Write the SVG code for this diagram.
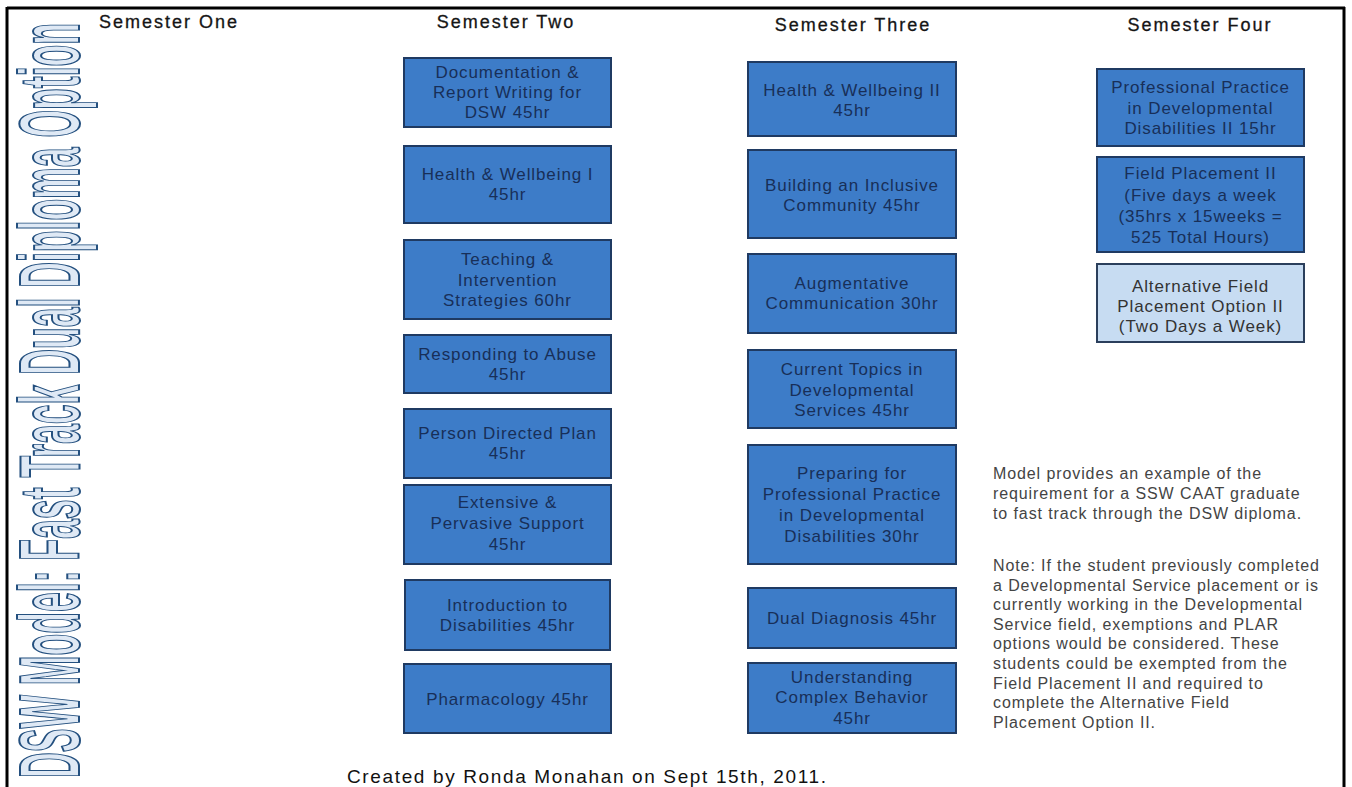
<svg xmlns="http://www.w3.org/2000/svg" width="1352" height="787" viewBox="0 0 1352 787">
<style>
.box{fill:#3d7cc8;stroke:#1f3a62;stroke-width:2}
.lbox{fill:#c7dcf2;stroke:#2b3f5c;stroke-width:2}
.bt{font-family:"Liberation Sans",Arial,sans-serif;font-size:17px;fill:#182f58;text-anchor:middle;letter-spacing:0.9px}
.lt{font-family:"Liberation Sans",Arial,sans-serif;font-size:17px;fill:#333;text-anchor:middle;letter-spacing:0.9px}
.hd{font-family:"Liberation Sans",Arial,sans-serif;font-size:18px;fill:#151515;stroke:#151515;stroke-width:0.3;text-anchor:middle;letter-spacing:2px}
.para{font-family:"Liberation Sans",Arial,sans-serif;font-size:16px;fill:#444;letter-spacing:0.9px}
.foot{font-family:"Liberation Sans",Arial,sans-serif;font-size:19px;fill:#111}
.title{font-family:"Liberation Sans",Arial,sans-serif;font-size:86px;font-weight:bold;fill:#dfe9f5;stroke:#24507f;stroke-width:2}
</style>
<rect width="1352" height="787" fill="#fff"/>
<g id="frame" stroke="#000" stroke-width="3" fill="none">
<line x1="7" y1="8" x2="1345" y2="8"/>
<line x1="7" y1="7" x2="7" y2="787"/>
<line x1="1344" y1="7" x2="1344" y2="787"/>
</g>
<g id="title">
<text class="title" transform="translate(79,778) rotate(-90)" x="0" y="0" textLength="755" lengthAdjust="spacingAndGlyphs">DSW Model: Fast Track Dual Diploma Option</text>
</g>
<g id="headers">
<text class="hd" x="169" y="28">Semester One</text>
<text class="hd" x="506" y="28">Semester Two</text>
<text class="hd" x="853" y="31">Semester Three</text>
<text class="hd" x="1200" y="31">Semester Four</text>
</g>
<g id="connectors"></g>
<!-- Semester Two -->
<g id="s2-doc"><rect class="box" x="404" y="58" width="207" height="69"/>
<text class="bt" x="507.5" y="78">Documentation &amp;</text><text class="bt" x="507.5" y="98">Report Writing for</text><text class="bt" x="507.5" y="118">DSW 45hr</text></g>
<g id="s2-hw1"><rect class="box" x="404" y="146" width="207" height="77"/>
<text class="bt" x="507.5" y="180">Health &amp; Wellbeing I</text><text class="bt" x="507.5" y="200">45hr</text></g>
<g id="s2-teach"><rect class="box" x="404" y="240" width="207" height="79"/>
<text class="bt" x="507.5" y="265">Teaching &amp;</text><text class="bt" x="507.5" y="286">Intervention</text><text class="bt" x="507.5" y="306">Strategies 60hr</text></g>
<g id="s2-abuse"><rect class="box" x="404" y="335" width="207" height="58"/>
<text class="bt" x="507.5" y="360">Responding to Abuse</text><text class="bt" x="507.5" y="380">45hr</text></g>
<g id="s2-pdp"><rect class="box" x="404" y="409" width="207" height="69"/>
<text class="bt" x="507.5" y="439">Person Directed Plan</text><text class="bt" x="507.5" y="459">45hr</text></g>
<g id="s2-ext"><rect class="box" x="404" y="485" width="207" height="79"/>
<text class="bt" x="507.5" y="508">Extensive &amp;</text><text class="bt" x="507.5" y="529">Pervasive Support</text><text class="bt" x="507.5" y="550">45hr</text></g>
<g id="s2-intro"><rect class="box" x="405" y="580" width="205" height="70"/>
<text class="bt" x="507.5" y="611">Introduction to</text><text class="bt" x="507.5" y="631">Disabilities 45hr</text></g>
<g id="s2-pharm"><rect class="box" x="404" y="664" width="207" height="69"/>
<text class="bt" x="507.5" y="705">Pharmacology 45hr</text></g>
<!-- Semester Three -->
<g id="s3-hw2"><rect class="box" x="748" y="62" width="208" height="74"/>
<text class="bt" x="852" y="96">Health &amp; Wellbeing II</text><text class="bt" x="852" y="116">45hr</text></g>
<g id="s3-build"><rect class="box" x="748" y="150" width="208" height="88"/>
<text class="bt" x="852" y="191">Building an Inclusive</text><text class="bt" x="852" y="211">Community 45hr</text></g>
<g id="s3-aug"><rect class="box" x="748" y="254" width="208" height="79"/>
<text class="bt" x="852" y="289">Augmentative</text><text class="bt" x="852" y="309">Communication 30hr</text></g>
<g id="s3-topics"><rect class="box" x="748" y="350" width="208" height="78"/>
<text class="bt" x="852" y="375">Current Topics in</text><text class="bt" x="852" y="396">Developmental</text><text class="bt" x="852" y="416">Services 45hr</text></g>
<g id="s3-prep"><rect class="box" x="748" y="445" width="208" height="119"/>
<text class="bt" x="852" y="479">Preparing for</text><text class="bt" x="852" y="500">Professional Practice</text><text class="bt" x="852" y="521">in Developmental</text><text class="bt" x="852" y="542">Disabilities 30hr</text></g>
<g id="s3-dual"><rect class="box" x="748" y="588" width="208" height="60"/>
<text class="bt" x="852" y="624">Dual Diagnosis 45hr</text></g>
<g id="s3-behav"><rect class="box" x="748" y="663" width="208" height="70"/>
<text class="bt" x="852" y="683">Understanding</text><text class="bt" x="852" y="703">Complex Behavior</text><text class="bt" x="852" y="724">45hr</text></g>
<!-- Semester Four -->
<g id="s4-ppdd2"><rect class="box" x="1097" y="69" width="207" height="77"/>
<text class="bt" x="1200.5" y="93">Professional Practice</text><text class="bt" x="1200.5" y="114">in Developmental</text><text class="bt" x="1200.5" y="134">Disabilities II 15hr</text></g>
<g id="s4-field"><rect class="box" x="1097" y="157" width="207" height="95"/>
<text class="bt" x="1200.5" y="179">Field Placement II</text><text class="bt" x="1200.5" y="201">(Five days a week</text><text class="bt" x="1200.5" y="222">(35hrs x 15weeks =</text><text class="bt" x="1200.5" y="243">525 Total Hours)</text></g>
<g id="s4-alt"><rect class="lbox" x="1097" y="264" width="207" height="78"/>
<text class="lt" x="1200.5" y="292">Alternative Field</text><text class="lt" x="1200.5" y="312">Placement Option II</text><text class="lt" x="1200.5" y="332">(Two Days a Week)</text></g>
<g id="note">
<text class="para" x="993" y="479">Model provides an example of the</text>
<text class="para" x="993" y="499">requirement for a SSW CAAT graduate</text>
<text class="para" x="993" y="519">to fast track through the DSW diploma.</text>
<text class="para" x="993" y="571">Note: If the student previously completed</text>
<text class="para" x="993" y="591">a Developmental Service placement or is</text>
<text class="para" x="993" y="610">currently working in the Developmental</text>
<text class="para" x="993" y="630">Service field, exemptions and PLAR</text>
<text class="para" x="993" y="649">options would be considered.  These</text>
<text class="para" x="993" y="669">students could be exempted from the</text>
<text class="para" x="993" y="689">Field Placement II and required to</text>
<text class="para" x="993" y="708">complete the  Alternative Field</text>
<text class="para" x="993" y="728">Placement Option II.</text>
</g>
<g id="footer">
<text class="foot" x="347" y="783" textLength="479">Created by Ronda Monahan on Sept 15th, 2011.</text>
</g>
</svg>
